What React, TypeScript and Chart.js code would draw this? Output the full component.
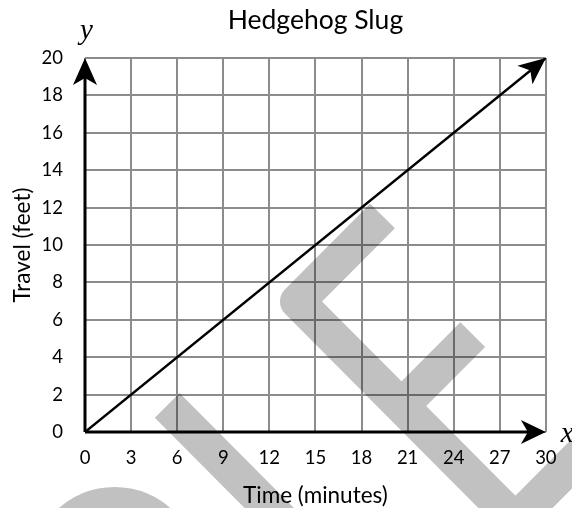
import React, { useEffect, useRef } from 'react';
import { Chart, registerables } from 'chart.js';

Chart.register(...registerables);

const chartTitle = 'Hedgehog Slug';
const xAxisTitle = 'Time (minutes)';
const yAxisTitle = 'Travel (feet)';
const xAxisLetter = 'x';
const yAxisLetter = 'y';

const xTicks = [0, 3, 6, 9, 12, 15, 18, 21, 24, 27, 30];
const yTicks = [0, 2, 4, 6, 8, 10, 12, 14, 16, 18, 20];

const timeMinutes = [0, 30];
const travelFeet = [0, 20];

// faint grey watermark strokes (data coordinates; null splits strokes)
const watermarkX = [19.37, 13.83, 28.02, 33.79, null, 20.61, 25.24, null, 5.35, 17.95];
const watermarkY = [11.55, 6.98, -4.73, 0.03, null, 1.39, 5.21, null, 1.42, -8.98];
// round blob of the watermark (very short stroke with round caps)
const watermarkDotX = [1.93, 1.95];
const watermarkDotY = [-7.43, -7.43];

const FONT = 'Lato, "Open Sans", sans-serif';
const WM_COLOR = 'rgba(0,0,0,0.245)';

function drawArrowHead(ctx: CanvasRenderingContext2D, tx: number, ty: number, angle: number, len = 27, half = 12, notch = 20) {
  ctx.save();
  ctx.translate(tx, ty);
  ctx.rotate(angle);
  ctx.beginPath();
  ctx.moveTo(0, 0);
  ctx.lineTo(-len, -half);
  ctx.lineTo(-notch, 0);
  ctx.lineTo(-len, half);
  ctx.closePath();
  ctx.fillStyle = '#000';
  ctx.fill();
  ctx.restore();
}

const axesPlugin = {
  id: 'axesArrows',
  afterDatasetsDraw(chart: any) {
    const ctx: CanvasRenderingContext2D = chart.ctx;
    const xs = chart.scales.x;
    const ys = chart.scales.y;
    const x0 = xs.getPixelForValue(xTicks[0]);
    const x1 = xs.getPixelForValue(xTicks[xTicks.length - 1]);
    const y0 = ys.getPixelForValue(yTicks[0]);
    const y1 = ys.getPixelForValue(yTicks[yTicks.length - 1]);
    ctx.save();
    ctx.strokeStyle = '#000';
    ctx.lineWidth = 3;
    ctx.lineCap = 'butt';
    ctx.beginPath();
    ctx.moveTo(x0, y0);
    ctx.lineTo(x1 - 15, y0);
    ctx.moveTo(x0, y0);
    ctx.lineTo(x0, y1 + 15);
    ctx.stroke();
    drawArrowHead(ctx, x1, y0, 0, 25, 12, 18);
    drawArrowHead(ctx, x0, y1, -Math.PI / 2);
    // arrow on data line end
    const n = timeMinutes.length;
    const px1 = xs.getPixelForValue(timeMinutes[n - 1]);
    const py1 = ys.getPixelForValue(travelFeet[n - 1]);
    const px0 = xs.getPixelForValue(timeMinutes[n - 2]);
    const py0 = ys.getPixelForValue(travelFeet[n - 2]);
    drawArrowHead(ctx, px1, py1, Math.atan2(py1 - py0, px1 - px0));
    // axis letters
    ctx.fillStyle = '#000';
    ctx.font = 'italic 29px "Liberation Serif", serif';
    ctx.textBaseline = 'alphabetic';
    ctx.textAlign = 'left';
    ctx.fillText(yAxisLetter, x0 - 5, y1 - 19);
    ctx.fillText(xAxisLetter, x1 + 15, y0 + 10);
    ctx.restore();
  },
};

export default function App() {
  const ref = useRef<HTMLCanvasElement>(null);
  useEffect(() => {
    document.body.style.margin = '0';
    const canvas = ref.current;
    if (!canvas) return;
    const lineData = timeMinutes.map((t, i) => ({ x: t, y: travelFeet[i] }));
    const wmData = watermarkX.map((x, i) => ({ x, y: watermarkY[i] }));
    const dotData = watermarkDotX.map((x, i) => ({ x, y: watermarkDotY[i] }));
    const chart = new Chart(canvas, {
      type: 'scatter',
      data: {
        datasets: [
          {
            label: chartTitle,
            data: lineData,
            showLine: true,
            borderColor: '#000',
            borderWidth: 2.5,
            pointRadius: 0,
            order: 0,
          },
          {
            label: 'watermark',
            data: wmData as any,
            showLine: true,
            spanGaps: false,
            borderColor: WM_COLOR,
            borderWidth: 35,
            borderCapStyle: 'butt',
            borderJoinStyle: 'round',
            pointRadius: 0,
            clip: false as any,
            order: 1,
          },
          {
            label: 'watermark blob',
            data: dotData,
            showLine: true,
            borderColor: WM_COLOR,
            borderWidth: 168,
            borderCapStyle: 'round',
            pointRadius: 0,
            clip: false as any,
            order: 2,
          },
        ],
      },
      options: {
        responsive: false,
        animation: false,
        events: [],
        layout: { autoPadding: false, padding: { left: 0, right: 24, top: 0, bottom: 0 } },
        plugins: {
          legend: { display: false },
          tooltip: { enabled: false },
          title: {
            display: true,
            fullSize: false,
            text: chartTitle,
            color: '#000',
            font: { family: FONT, size: 26.5, weight: 'normal', lineHeight: 1.2 },
            padding: { top: 4.4, bottom: 21.8 },
          },
        },
        scales: {
          x: {
            type: 'linear',
            min: xTicks[0],
            max: xTicks[xTicks.length - 1],
            afterBuildTicks: (s: any) => {
              s.ticks = xTicks.map((v) => ({ value: v }));
            },
            afterFit: (s: any) => {
              s.height = 76;
            },
            grid: { color: '#8c8c8c', lineWidth: 2, drawTicks: false },
            border: { display: false },
            ticks: {
              color: '#000',
              padding: 15.4,
              maxRotation: 0,
              autoSkip: false,
              font: { family: FONT, size: 18.5, lineHeight: 1.2 },
            },
            title: {
              display: true,
              text: xAxisTitle,
              color: '#000',
              font: { family: FONT, size: 22.5, lineHeight: 1 },
              padding: { top: 0, bottom: 1 },
            },
          },
          y: {
            type: 'linear',
            min: yTicks[0],
            max: yTicks[yTicks.length - 1],
            afterBuildTicks: (s: any) => {
              s.ticks = yTicks.map((v) => ({ value: v }));
            },
            afterFit: (s: any) => {
              s.width = 85;
            },
            grid: { color: '#8c8c8c', lineWidth: 2, drawTicks: false },
            border: { display: false },
            ticks: {
              color: '#000',
              padding: 22,
              autoSkip: false,
              font: { family: FONT, size: 18.5, lineHeight: 1.2 },
            },
            title: {
              display: true,
              text: yAxisTitle,
              color: '#000',
              font: { family: FONT, size: 22.5, lineHeight: 1 },
              padding: { top: 11, bottom: 0 },
            },
          },
        },
      },
      plugins: [axesPlugin],
    });
    return () => chart.destroy();
  }, []);
  return (
    <div style={{ position: 'absolute', left: 0, top: 0, width: 572, height: 508 }}>
      <canvas ref={ref} width={572} height={508} style={{ display: 'block' }} />
    </div>
  );
}
